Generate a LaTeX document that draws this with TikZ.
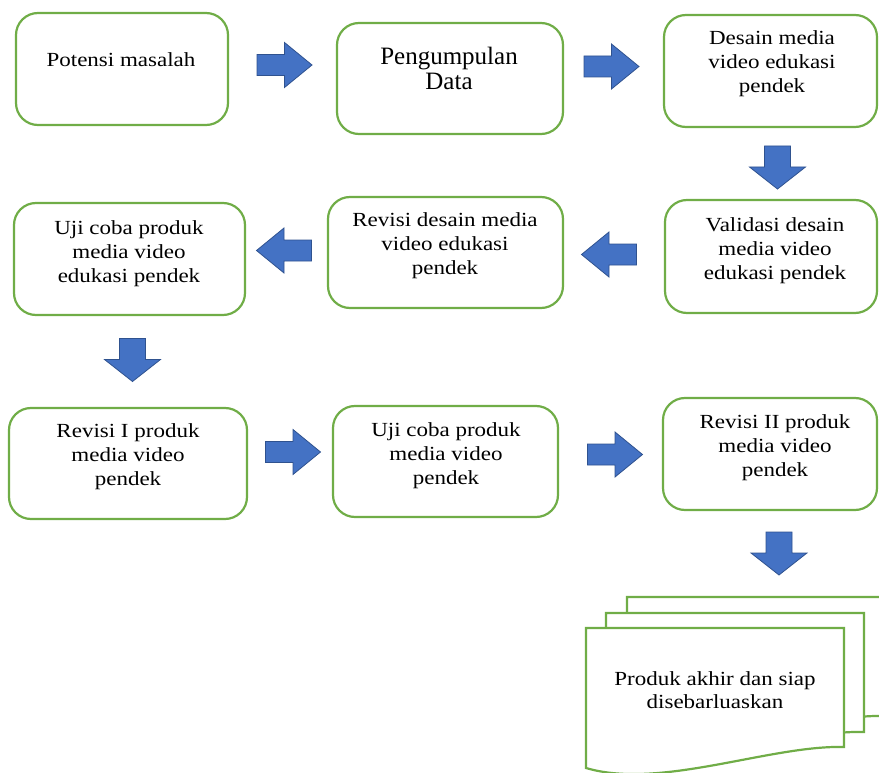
\documentclass[tikz,border=0pt]{standalone}
\usepackage{fontspec}
\setmainfont[FakeStretch=1.15]{Liberation Serif}
\newfontfamily\pgfont{Liberation Serif}
\definecolor{boxgreen}{HTML}{70AD47}
\definecolor{arrowblue}{HTML}{4472C4}
\definecolor{arrowedge}{HTML}{2F528F}
\tikzset{
  box/.style={draw=boxgreen, line width=2.2pt, rounded corners=22pt, fill=white},
  page/.style={draw=boxgreen, line width=2.2pt, fill=white},
  txt/.style={font=\fontsize{20}{23.6}\selectfont, align=center, inner sep=0pt, anchor=base},
  barrow/.style={fill=arrowblue, draw=arrowedge, line width=0.8pt},
  harr/.pic={\path[barrow] (-27.5,-10.5) -- (0,-10.5) -- (0,-22.5) -- (27.5,0) -- (0,22.5) -- (0,10.5) -- (-27.5,10.5) -- cycle;},
  varr/.pic={\path[barrow] (-13,-21.5) -- (13,-21.5) -- (13,-0.5) -- (28,-0.5) -- (0,21.5) -- (-28,-0.5) -- (-13,-0.5) -- cycle;}
}
\begin{document}
\begin{tikzpicture}[x=1pt,y=-1pt]
\useasboundingbox (0,0) rectangle (879,773);
\clip (0,0) rectangle (879,773);
% boxes
\draw[box] (16,13) rectangle (228,125);
\draw[box] (337,23) rectangle (563,134);
\draw[box] (664,15) rectangle (877,127);
\draw[box] (665,200) rectangle (877,313);
\draw[box] (328,197) rectangle (563,308);
\draw[box] (14,203) rectangle (245,315);
\draw[box] (9,408) rectangle (247,519);
\draw[box] (333,406) rectangle (558,517);
\draw[box] (663,398) rectangle (877,510);
% texts (anchored at the baseline of the last line)
\node[txt] (t1) at (121,66.7) {Potensi masalah};
\node[txt, font=\pgfont\fontsize{25}{25}\selectfont] (t2) at (449,90) {Pengumpulan\\Data};
\node[txt] (t3) at (772,92.2) {Desain media\\video edukasi\\pendek};
\node[txt] (t4) at (775,279) {Validasi desain\\media video\\edukasi pendek};
\node[txt] (t5) at (445,274) {Revisi desain media\\video edukasi\\pendek};
\node[txt] (t6) at (129,282) {Uji coba produk\\media video\\edukasi pendek};
\node[txt] (t7) at (128,485) {Revisi I produk\\media video\\pendek};
\node[txt] (t8) at (446,484) {Uji coba produk\\media video\\pendek};
\node[txt] (t9) at (775,476) {Revisi II produk\\media video\\pendek};
% multidocument
\foreach \dx/\dy in {41/-31, 20/-15, 0/0}{
  \begin{scope}[shift={(\dx,\dy)}]
    \draw[page] (586,628) -- (844,628) -- (844,747)
      .. controls (770,745) and (660,790) .. (586,768) -- cycle;
  \end{scope}
}
\node[txt] (t10) at (715,708.6) {Produk akhir dan siap\\disebarluaskan};
% block arrows
\pic at (284.5,65) {harr};
\pic at (611.5,66.5) {harr};
\pic at (777.5,167.5) {varr};
\pic[xscale=-1] at (609,254.5) {harr};
\pic[xscale=-1] at (284,250.5) {harr};
\pic at (132.5,360) {varr};
\pic at (293,452) {harr};
\pic at (615,454.5) {harr};
\pic at (779,553.5) {varr};
\end{tikzpicture}
\end{document}
